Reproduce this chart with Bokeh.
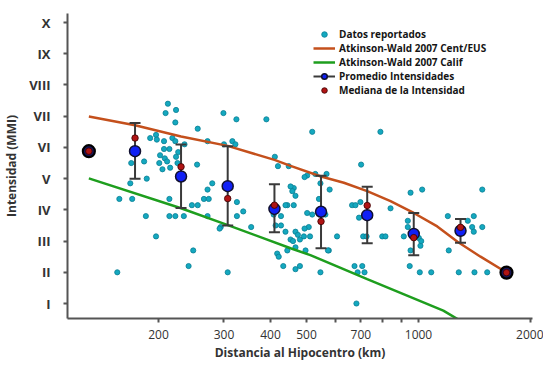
from bokeh.plotting import figure
from bokeh.models import FixedTicker, Legend, LegendItem
from bokeh.embed import file_html
from bokeh.resources import INLINE

# ---- data ----
data_km = [155, 157, 170, 168, 169, 183, 186, 185, 190, 197,
           212, 209, 223, 222, 255, 197, 198, 207, 218, 222, 214, 207, 202, 208, 201,
           205, 215, 211, 223, 225, 226, 254, 235, 214, 214, 222, 234, 246, 255, 248, 241,
           299, 324, 390, 271, 300, 316, 322, 265, 273, 271, 279, 325, 338, 355, 294, 307,
           271, 292, 325,
           411, 419, 448, 462, 453, 467, 444, 462, 427, 427, 502, 507, 467, 474, 453, 480,
           467, 417, 421, 433, 444, 467, 480, 502, 408, 439, 413, 439, 492, 460, 497, 458,
           518, 528, 566, 494, 577, 540, 511, 494, 574, 604, 545, 518, 562, 571, 545,
           790, 701, 663, 677, 698, 673, 706, 686, 716, 681, 710, 725, 799, 815, 841, 692,
           952, 1023, 936, 936, 1002, 1012, 952, 913, 947, 1008, 1082, 1017,
           1199, 1408, 1484, 1394, 1408, 1484, 1283, 1414, 1530, 1206, 1357]
data_mmi = [2.0, 4.35, 4.35, 4.85, 5.5, 5.55, 5.0, 3.8, 6.3, 3.15,
            7.4, 7.1, 7.2, 6.8, 6.6, 6.4, 6.25, 6.2, 6.3, 6.2, 5.95, 5.95, 5.75, 5.65, 5.5,
            5.3, 5.35, 5.55, 5.7, 5.5, 5.85, 5.45, 6.1, 4.35, 3.8, 3.8, 3.8, 4.15, 4.15, 2.7, 2.2,
            7.1, 6.9, 6.9, 6.2, 6.1, 6.2, 6.1, 4.35, 4.35, 4.65, 4.85, 4.25, 3.95, 3.45, 3.45, 2.0,
            3.8, 3.4, 3.8,
            5.7, 5.4, 5.4, 4.7, 4.75, 4.45, 4.15, 4.15, 3.8, 3.5, 5.1, 3.45, 3.3, 3.2, 3.05, 3.05,
            2.8, 2.6, 2.5, 2.2, 2.7, 2.1, 2.2, 3.9, 3.85, 4.15, 3.5, 3.3, 3.15, 3.0, 2.7, 4.6,
            6.5, 5.15, 5.15, 5.05, 4.65, 4.35, 3.15, 3.4, 2.7, 3.15, 2.0, 3.85, 3.85, 2.7, 4.85,
            6.5, 5.45, 4.15, 4.15, 4.25, 2.2, 2.2, 2.0, 2.0, 1.0, 3.15, 3.15, 3.15, 3.15, 4.05, 3.75,
            4.55, 4.65, 3.65, 3.45, 3.1, 2.85, 2.7, 3.15, 2.2, 2.0, 2.0, 3.0,
            3.8, 3.8, 4.65, 3.45, 3.3, 3.45, 2.0, 2.0, 2.0, 2.7, 3.65]

cent_km = [130, 173, 230, 307, 410, 453, 547, 630, 728, 841, 971, 1123, 1273, 1468, 1720]
cent_mmi = [6.99, 6.71, 6.35, 6.05, 5.6, 5.41, 5.07, 4.87, 4.60, 4.28, 3.90, 3.47, 2.98, 2.50, 2.0]

calif_km = [130, 229, 306, 453, 512, 728, 1166, 1295]
calif_mmi = [5.01, 4.06, 3.52, 2.77, 2.55, 1.78, 0.77, 0.45]

bin_km = [173, 230, 307, 410, 547, 728, 971, 1297]
bin_mean = [5.88, 5.07, 4.76, 4.03, 3.94, 3.83, 3.23, 3.33]
bin_top = [6.78, 6.09, 6.04, 4.82, 5.09, 4.74, 3.90, 3.71]
bin_bottom = [5.00, 4.06, 3.50, 3.28, 2.77, 2.93, 2.55, 2.95]

single_km = [130, 1724]
single_mmi = [5.88, 1.99]

median_km = [130, 173, 230, 307, 410, 547, 728, 971, 1297, 1724]
median_mmi = [5.88, 6.30, 5.38, 4.36, 4.15, 3.63, 4.14, 3.11, 3.44, 1.99]

x_ticks = [200, 300, 400, 500, 600, 700, 800, 900, 1000, 2000]
x_labels = ["200", "300", "400", "500", "", "700", "", "", "1000", "2000"]
y_ticks = [1, 2, 3, 4, 5, 6, 7, 8, 9, 10]
y_labels = ["I", "II", "III", "IV", "V", "VI", "VII", "VIII", "IX", "X"]

FONT = "Open Sans"

p = figure(width=543, height=366, x_axis_type="log",
           x_range=(113.9, 2025), y_range=(0.52, 10.29),
           output_backend="svg", toolbar_location=None,
           min_border_left=67, min_border_right=11, min_border_top=13, min_border_bottom=48)
p.outline_line_color = None
p.xgrid.visible = False
p.ygrid.visible = False
p.background_fill_color = "white"
p.border_fill_color = "white"

# data points
r_data = p.scatter(data_km, data_mmi, size=5.2, fill_color="#14a8bf", line_color="#0a7f94", line_width=0.8)

# curves
r_cent = p.line(cent_km, cent_mmi, line_color="#c4501c", line_width=2.5)
r_calif = p.line(calif_km, calif_mmi, line_color="#1e9e1e", line_width=2.5)

# error bars
r_err = p.segment(x0=bin_km, y0=bin_bottom, x1=bin_km, y1=bin_top, line_color="#3a3a3a", line_width=2)
p.scatter(bin_km, bin_top, marker="dash", size=11, line_color="#3a3a3a", line_width=2)
p.scatter(bin_km, bin_bottom, marker="dash", size=11, line_color="#3a3a3a", line_width=2)

# means
r_mean = p.scatter(bin_km, bin_mean, size=11, fill_color="#1020f5", line_color="#101030", line_width=1.5)
p.scatter(single_km, single_mmi, size=12, fill_color="#16165a", line_color="black", line_width=2.2)

# medians
r_med = p.scatter(median_km, median_mmi, size=6.5, fill_color="#b01414", line_color="#3a0000", line_width=0.8)

# axes
for ax in (p.xaxis[0], p.yaxis[0]):
    ax.axis_line_color = "#555555"
    ax.axis_line_width = 2
    ax.major_tick_line_color = "#555555"
    ax.major_tick_line_width = 2
    ax.minor_tick_line_color = None
    ax.major_tick_in = 0
    ax.major_label_text_font = FONT
    ax.axis_label_text_font = FONT
    ax.axis_label_text_font_style = "bold"
    ax.axis_label_text_color = "#333333"
    ax.major_label_text_color = "#333333"
    ax.axis_label_text_font_size = "12px"

p.xaxis.ticker = FixedTicker(ticks=x_ticks)
p.xaxis.major_label_overrides = dict(zip(x_ticks, x_labels))
p.xaxis.major_tick_out = 4
p.xaxis.major_label_standoff = 7
p.xaxis.axis_label_standoff = 2
p.xaxis.major_label_text_font_size = "12px"
p.xaxis.axis_label = "Distancia al Hipocentro (km)"

p.yaxis.ticker = FixedTicker(ticks=y_ticks)
p.yaxis.major_label_overrides = dict(zip(y_ticks, y_labels))
p.yaxis.major_tick_out = 4
p.yaxis.major_label_standoff = 13
p.yaxis.axis_label_standoff = 6
p.yaxis.major_label_text_font_size = "13px"
p.yaxis.major_label_text_font_style = "bold"
p.yaxis.axis_label = "Intensidad (MMI)"

legend = Legend(items=[
    LegendItem(label="Datos reportados", renderers=[r_data]),
    LegendItem(label="Atkinson-Wald 2007 Cent/EUS", renderers=[r_cent]),
    LegendItem(label="Atkinson-Wald 2007 Calif", renderers=[r_calif]),
    LegendItem(label="Promedio Intensidades", renderers=[r_err, r_mean]),
    LegendItem(label="Mediana de la Intensidad", renderers=[r_med]),
], location=(246, 221))
legend.background_fill_alpha = 0
legend.border_line_color = None
legend.padding = 0
legend.margin = 0
legend.spacing = 0
legend.glyph_height = 14
legend.label_height = 14
legend.glyph_width = 22
legend.label_standoff = 4
legend.label_text_font = FONT
legend.label_text_font_size = "10px"
legend.label_text_font_style = "bold"
legend.label_text_color = "#151515"
p.add_layout(legend)

open("out.html", "w").write(file_html(p, INLINE))
